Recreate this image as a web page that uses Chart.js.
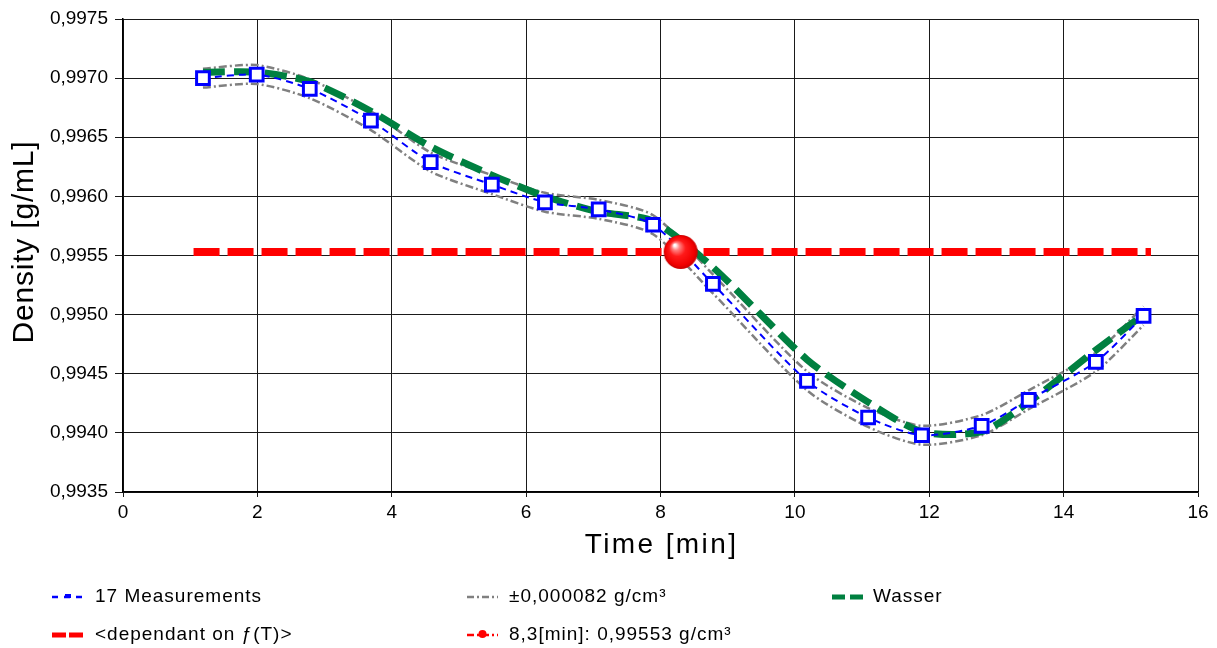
<!DOCTYPE html>
<html>
<head>
<meta charset="utf-8">
<script src="https://cdn.jsdelivr.net/npm/chart.js@4.4.1/dist/chart.umd.min.js"></script>
<style>
  body { margin: 0; background: #fff; }
  #wrap { width: 1217px; height: 648px; position: relative; }
</style>
</head>
<body>
<div id="wrap"><canvas id="densityChart"></canvas></div>
<script>
// values
var timeMin   = [1.19, 1.99, 2.78, 3.69, 4.58, 5.49, 6.28, 7.08, 7.89, 8.78, 10.18, 11.09, 11.89, 12.78, 13.48, 14.48, 15.19];
var measured  = [0.99700, 0.99703, 0.99691, 0.99664, 0.99629, 0.99610, 0.99595, 0.99589, 0.99576, 0.99526, 0.99444, 0.99413, 0.99398, 0.99406, 0.99428, 0.99460, 0.99499];
var upperBand = [0.99708, 0.99711, 0.99699, 0.99672, 0.99637, 0.99618, 0.99603, 0.99597, 0.99584, 0.99534, 0.99452, 0.99421, 0.99406, 0.99415, 0.99436, 0.99468, 0.99507];
var lowerBand = [0.99692, 0.99695, 0.99683, 0.99656, 0.99621, 0.99602, 0.99587, 0.99581, 0.99568, 0.99518, 0.99436, 0.99405, 0.99390, 0.99398, 0.99420, 0.99452, 0.99491];
var wasser    = [0.99705, 0.99705, 0.99697, 0.99672, 0.99642, 0.99618, 0.99600, 0.99587, 0.99579, 0.99540, 0.99462, 0.99426, 0.99401, 0.99401, 0.99426, 0.99470, 0.99500];
var fTLineX   = [1.05, 15.3];
var fTLineY   = [0.99553, 0.99553];
var crossX    = [8.3];
var crossY    = [0.99553];

var xTicks = [0, 2, 4, 6, 8, 10, 12, 14, 16];
var yTicks = [0.9935, 0.9940, 0.9945, 0.9950, 0.9955, 0.9960, 0.9965, 0.9970, 0.9975];
var yTickLabels = ['0,9935', '0,9940', '0,9945', '0,9950', '0,9955', '0,9960', '0,9965', '0,9970', '0,9975'];

var legendLabels = ['17 Measurements', '±0,000082 g/cm³', 'Wasser', '<dependant on ƒ(T)>', '8,3[min]: 0,99553 g/cm³'];

function pairs(xs, ys) {
    return xs.map(function (x, i) { return { x: x, y: ys[i] }; });
}

// shiny red ball for the crossing point
function makeBall(r) {
    var c = document.createElement('canvas');
    c.width = c.height = r * 2 + 2;
    var g = c.getContext('2d');
    var cx = r + 1, cy = r + 1;
    var grad = g.createRadialGradient(cx - r * 0.35, cy - r * 0.4, 1, cx, cy, r);
    grad.addColorStop(0, '#ffffff');
    grad.addColorStop(0.18, '#ff8080');
    grad.addColorStop(0.45, '#ff1a1a');
    grad.addColorStop(0.85, '#f00000');
    grad.addColorStop(1, '#c80000');
    g.fillStyle = grad;
    g.beginPath();
    g.arc(cx, cy, r, 0, Math.PI * 2);
    g.fill();
    return c;
}

var FONT = '"Liberation Sans", Arial, sans-serif';

var extrasPlugin = {
    id: 'extras',
    afterDraw: function (chart) {
        var ctx = chart.ctx;
        var area = chart.chartArea;
        ctx.save();
        ctx.fillStyle = '#000';

        // x title
        ctx.font = '28px ' + FONT;
        ctx.letterSpacing = '2.4px';
        ctx.textAlign = 'center';
        ctx.textBaseline = 'middle';
        ctx.fillText('Time [min]', (area.left + area.right) / 2 + 1, 545);

        // y title
        ctx.save();
        ctx.translate(33, 242);
        ctx.rotate(-Math.PI / 2);
        ctx.font = '30px ' + FONT;
        ctx.letterSpacing = '0.8px';
        ctx.textAlign = 'center';
        ctx.textBaseline = 'alphabetic';
        ctx.fillText('Density [g/mL]', 0, 0);
        ctx.restore();

        // legend
        var rows = [597, 635];
        var cols = [52, 467, 832];
        var symW = 31;
        ctx.font = '19px ' + FONT;
        ctx.letterSpacing = '1px';
        ctx.textAlign = 'left';
        ctx.textBaseline = 'middle';

        function seg(x, y, color, width, dash) {
            ctx.beginPath();
            ctx.setLineDash(dash);
            ctx.strokeStyle = color;
            ctx.lineWidth = width;
            ctx.moveTo(x, y);
            ctx.lineTo(x + symW, y);
            ctx.stroke();
            ctx.setLineDash([]);
        }

        // 17 Measurements
        seg(cols[0], rows[0], '#0000ff', 2.5, [6, 6]);
        ctx.fillStyle = '#0000ff';
        ctx.fillRect(cols[0] + 13, rows[0] - 3, 6, 4);
        // band
        seg(cols[1], rows[0], '#808080', 2.5, [7, 3, 2, 3]);
        // Wasser
        seg(cols[2], rows[0], '#008040', 5, [13, 5]);
        // f(T) line
        seg(cols[0], rows[1], '#ff0000', 5, [14, 3]);
        // crossing point
        seg(cols[1], rows[1], '#ff0000', 2.5, [7, 3, 2, 3]);
        ctx.fillStyle = '#ff0000';
        ctx.beginPath();
        ctx.arc(cols[1] + symW / 2, rows[1] - 1, 4, 0, Math.PI * 2);
        ctx.fill();

        ctx.fillStyle = '#000';
        var textPos = [[95, rows[0]], [509, rows[0]], [873, rows[0]], [95, rows[1]], [509, rows[1]]];
        legendLabels.forEach(function (t, i) {
            ctx.fillText(t, textPos[i][0], textPos[i][1]);
        });
        ctx.restore();
    }
};

document.addEventListener('DOMContentLoaded', function () {
    var ctx = document.getElementById('densityChart').getContext('2d');
    var chart = new Chart(ctx, {
        type: 'line',
        data: {
            datasets: [
                {
                    label: legendLabels[4],
                    data: pairs(crossX, crossY),
                    showLine: false,
                    pointStyle: makeBall(17),
                    pointRadius: 17,
                    order: 0
                },
                {
                    label: legendLabels[0],
                    data: pairs(timeMin, measured),
                    borderColor: '#0000ff',
                    borderWidth: 2,
                    borderDash: [7, 5],
                    pointStyle: 'rect',
                    pointRadius: 9,
                    pointBorderWidth: 3,
                    pointBorderColor: '#0000ff',
                    pointBackgroundColor: '#ffffff',
                    tension: 0.25,
                    order: 1
                },
                {
                    label: legendLabels[3],
                    data: pairs(fTLineX, fTLineY),
                    borderColor: '#ff0000',
                    borderWidth: 8,
                    borderDash: [26, 8],
                    borderCapStyle: 'butt',
                    pointRadius: 0,
                    order: 2
                },
                {
                    label: legendLabels[2],
                    data: pairs(timeMin, wasser),
                    borderColor: '#008040',
                    borderWidth: 7,
                    borderDash: [22, 9],
                    pointRadius: 0,
                    tension: 0.25,
                    order: 3
                },
                {
                    label: legendLabels[1],
                    data: pairs(timeMin, upperBand),
                    borderColor: '#808080',
                    borderWidth: 2.5,
                    borderDash: [8, 3, 2, 3],
                    pointRadius: 0,
                    tension: 0.25,
                    order: 4
                },
                {
                    label: legendLabels[1],
                    data: pairs(timeMin, lowerBand),
                    borderColor: '#808080',
                    borderWidth: 2.5,
                    borderDash: [8, 3, 2, 3],
                    pointRadius: 0,
                    tension: 0.25,
                    order: 4
                }
            ]
        },
        options: {
            responsive: true,
            maintainAspectRatio: false,
            animation: false,
            layout: { padding: { top: 19, right: 19, left: 0, bottom: 126 } },
            plugins: {
                legend: { display: false },
                tooltip: { enabled: false }
            },
            scales: {
                x: {
                    type: 'linear',
                    min: 0,
                    max: 16,
                    afterBuildTicks: function (scale) {
                        scale.ticks = xTicks.map(function (v) { return { value: v }; });
                    },
                    afterFit: function (scale) { scale.height = 30; },
                    grid: { color: '#1a1a1a', lineWidth: 1, tickLength: 5 },
                    border: { color: '#000', width: 1.5 },
                    ticks: {
                        color: '#000',
                        font: { family: FONT, size: 19 },
                        padding: 4,
                        maxRotation: 0,
                        callback: function (v) { return String(v); }
                    }
                },
                y: {
                    min: 0.9935,
                    max: 0.9975,
                    afterBuildTicks: function (scale) {
                        scale.ticks = yTicks.map(function (v) { return { value: v }; });
                    },
                    afterFit: function (scale) { scale.width = 123; },
                    grid: { color: '#1a1a1a', lineWidth: 1, tickLength: 8 },
                    border: { color: '#000', width: 1.5 },
                    ticks: {
                        color: '#000',
                        font: { family: FONT, size: 19 },
                        padding: 7,
                        callback: function (v, i) { return yTickLabels[i]; }
                    }
                }
            }
        },
        plugins: [extrasPlugin]
    });
});
</script>
</body>
</html>
